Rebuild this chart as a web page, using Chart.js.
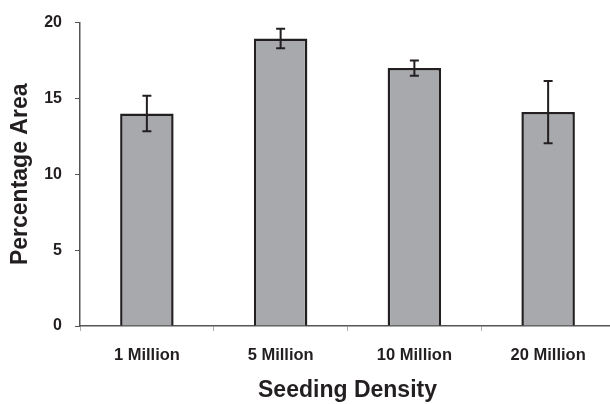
<!DOCTYPE html>
<html>
<head>
<meta charset="utf-8">
<script src="https://cdn.jsdelivr.net/npm/chart.js@4.4.0/dist/chart.umd.min.js"></script>
<style>
    html, body { margin: 0; padding: 0; background: #fff; overflow: hidden; }
    #quadro { width: 610px; height: 404px; overflow: hidden; }
</style>
</head>
<body>
<div id="quadro">
    <canvas id="graficoArea" width="616" height="404"></canvas>
</div>
<script>
// dados
const categorias = ['1 Million', '5 Million', '10 Million', '20 Million'];
const mediasArea = [14.0, 18.95, 17.0, 14.1];
const errosArea = [1.17, 0.64, 0.5, 2.05];
const ticksY = [0, 5, 10, 15, 20];

const corEscura = '#231f20';
const fonte = 'Liberation Sans, Arial, Helvetica, sans-serif';

// plugin simples para desenhar as barras de erro usando as escalas do Chart.js
const barrasErro = {
    id: 'barrasErro',
    afterDatasetsDraw(chart) {
        const ctx = chart.ctx;
        const escalaY = chart.scales.y;
        const meta = chart.getDatasetMeta(0);
        ctx.save();
        ctx.strokeStyle = corEscura;
        ctx.lineWidth = 2;
        for (let i = 0; i < mediasArea.length; i++) {
            const x = meta.data[i].x;
            const yTopo = escalaY.getPixelForValue(mediasArea[i] + errosArea[i]);
            const yBase = escalaY.getPixelForValue(mediasArea[i] - errosArea[i]);
            ctx.beginPath();
            ctx.moveTo(x, yTopo);
            ctx.lineTo(x, yBase);
            ctx.moveTo(x - 4.5, yTopo);
            ctx.lineTo(x + 4.5, yTopo);
            ctx.moveTo(x - 4.5, yBase);
            ctx.lineTo(x + 4.5, yBase);
            ctx.stroke();
        }
        ctx.restore();
    }
};

const configArea = {
    type: 'bar',
    data: {
        labels: categorias,
        datasets: [{
            data: mediasArea,
            backgroundColor: '#a7a9ac',
            borderColor: corEscura,
            borderWidth: 2.5,
            borderSkipped: 'bottom',
            barPercentage: 0.8,
            categoryPercentage: 0.5
        }]
    },
    options: {
        responsive: false,
        animation: false,
        layout: { padding: { top: 13, right: 1, left: 0, bottom: 0 } },
        plugins: {
            legend: { display: false },
            tooltip: { enabled: false }
        },
        scales: {
            x: {
                grid: {
                    drawOnChartArea: false,
                    color: '#b0b0b0',
                    tickLength: 5,
                    lineWidth: 1
                },
                border: { color: '#555555', width: 1.5 },
                ticks: {
                    color: corEscura,
                    font: { family: fonte, size: 16.5, weight: 'bold' },
                    padding: 15,
                    maxRotation: 0
                },
                title: {
                    display: true,
                    text: 'Seeding Density',
                    color: corEscura,
                    font: { family: fonte, size: 23, weight: 'bold' },
                    padding: { top: 10, bottom: 0 }
                },
                afterFit(escala) { escala.height = 78; }
            },
            y: {
                min: 0,
                max: 20,
                afterBuildTicks(escala) {
                    escala.ticks = ticksY.map(v => ({ value: v }));
                },
                grid: {
                    drawOnChartArea: false,
                    color: '#555555',
                    tickLength: 5,
                    lineWidth: 1
                },
                border: { color: '#555555', width: 1.5 },
                ticks: {
                    color: corEscura,
                    font: { family: fonte, size: 16, weight: 'bold' },
                    padding: 13
                },
                title: {
                    display: true,
                    text: 'Percentage Area',
                    color: corEscura,
                    font: { family: fonte, size: 23, weight: 'bold' },
                    padding: { top: 7, bottom: 0 }
                },
                afterFit(escala) { escala.width = 80; }
            }
        }
    },
    plugins: [barrasErro]
};

new Chart(document.getElementById('graficoArea'), configArea);
</script>
</body>
</html>
